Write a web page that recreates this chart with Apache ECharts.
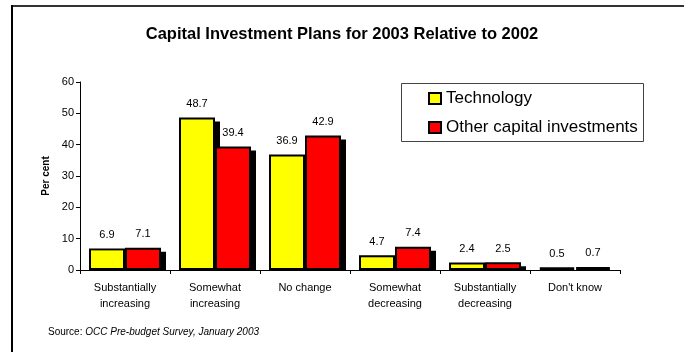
<!DOCTYPE html>
<html>
<head>
<meta charset="utf-8">
<script src="https://cdn.jsdelivr.net/npm/echarts@6/dist/echarts.min.js"></script>
<style>
  html, body { margin: 0; padding: 0; background: #fff; }
  #chart { width: 684px; height: 352px; }
</style>
</head>
<body>
<div id="chart"></div>
<script>
// Survey answers (per cent of respondents)
const categories = [
  'Substantially\nincreasing',
  'Somewhat\nincreasing',
  'No change',
  'Somewhat\ndecreasing',
  'Substantially\ndecreasing',
  "Don't know"
];
const technology = [6.9, 48.7, 36.9, 4.7, 2.4, 0.5];
const otherCapital = [7.1, 39.4, 42.9, 7.4, 2.5, 0.7];
const yTicks = { min: 0, max: 60, interval: 10 };

const FONT = 'Liberation Sans, Arial, sans-serif';
const SHADOW_DX = 5;

const barStyle = (color) => ({
  color: color,
  borderColor: '#000',
  borderWidth: 4,
  shadowColor: '#000',
  shadowBlur: 0,
  shadowOffsetX: SHADOW_DX,
  shadowOffsetY: 4
});

const valueLabel = {
  show: true,
  position: 'top',
  distance: 8,
  color: '#000',
  fontSize: 11,
  fontFamily: FONT,
  formatter: (p) => p.value.toFixed(1)
};

const chart = echarts.init(document.getElementById('chart'), null, { renderer: 'canvas' });

chart.setOption({
  animation: false,
  backgroundColor: '#fff',
  title: {
    text: 'Capital Investment Plans for 2003 Relative to 2002',
    left: 'center',
    top: 21,
    textStyle: { fontFamily: FONT, fontSize: 16.5, fontWeight: 'bold', color: '#000' }
  },
  legend: {
    orient: 'vertical',
    left: 428,
    top: 90,
    itemWidth: 12,
    itemHeight: 11,
    itemGap: 12,
    icon: 'rect',
    padding: 0,
    itemStyle: { borderColor: '#000', borderWidth: 2, shadowColor: 'transparent', shadowOffsetX: 0, shadowOffsetY: 0 },
    textStyle: { fontFamily: FONT, fontSize: 17, color: '#000', lineHeight: 16 },
    data: ['Technology', 'Other capital investments']
  },
  grid: { left: 80, right: 64, top: 82, bottom: 82 },
  xAxis: {
    type: 'category',
    data: categories,
    z: 6,
    axisLine: { lineStyle: { color: '#000', width: 1 } },
    axisTick: { show: true, length: 4, lineStyle: { color: '#000' } },
    axisLabel: { color: '#000', fontSize: 11, fontFamily: FONT, lineHeight: 16, margin: 10, interval: 0 }
  },
  yAxis: {
    type: 'value',
    min: yTicks.min,
    max: yTicks.max,
    interval: yTicks.interval,
    name: 'Per cent',
    nameLocation: 'middle',
    nameRotate: 90,
    nameGap: 28,
    z: 6,
    nameTextStyle: { fontFamily: FONT, fontSize: 10, fontWeight: 'bold', color: '#000' },
    axisLine: { show: true, lineStyle: { color: '#000', width: 1 } },
    axisTick: { show: true, length: 4, lineStyle: { color: '#000' } },
    axisLabel: { color: '#000', fontSize: 11, fontFamily: FONT, margin: 6 },
    splitLine: { show: false }
  },
  series: [
    {
      name: 'Technology',
      type: 'bar',
      data: technology,
      barWidth: 36,
      barGap: '0%',
      clip: false,
      itemStyle: barStyle('#ffff00'),
      label: valueLabel
    },
    {
      name: 'Other capital investments',
      type: 'bar',
      data: otherCapital,
      barWidth: 36,
      barGap: '0%',
      clip: false,
      itemStyle: barStyle('#ff0000'),
      label: valueLabel
    }
  ],
  graphic: [
    // frame: top and left edges
    { type: 'line', shape: { x1: 11, y1: 6, x2: 684, y2: 6 }, style: { stroke: '#333', lineWidth: 2 } },
    { type: 'line', shape: { x1: 12, y1: 5, x2: 12, y2: 352 }, style: { stroke: '#000', lineWidth: 2 } },
    // keep the bar shadows from dropping below the baseline
    { type: 'rect', shape: { x: 81, y: 270.5, width: 550, height: 8 }, style: { fill: '#fff' }, z: 5 },
    // legend box
    { type: 'rect', shape: { x: 401.5, y: 83.5, width: 242, height: 58 }, style: { fill: 'none', stroke: '#444', lineWidth: 1 }, z: 10 },
    // source note
    {
      type: 'text',
      left: 48,
      top: 327,
      style: {
        text: '{a|Source: }{b|OCC Pre-budget Survey, January 2003}',
        rich: {
          a: { fontFamily: FONT, fontSize: 10, fill: '#000' },
          b: { fontFamily: FONT, fontSize: 10, fontStyle: 'italic', fill: '#000' }
        }
      }
    }
  ]
});

// Stroke the bar outline before the fill: the fill then hides the inner half of
// the border and the drop shadow only shows outside the bar.
const zr = chart.getZr();
zr.storage.getDisplayList(true).forEach((el) => {
  if (el.type === 'rect' && el.style && el.style.shadowOffsetX === SHADOW_DX) {
    el.style.strokeFirst = true;
    el.markRedraw();
  }
});
zr.refreshImmediately();
</script>
</body>
</html>
